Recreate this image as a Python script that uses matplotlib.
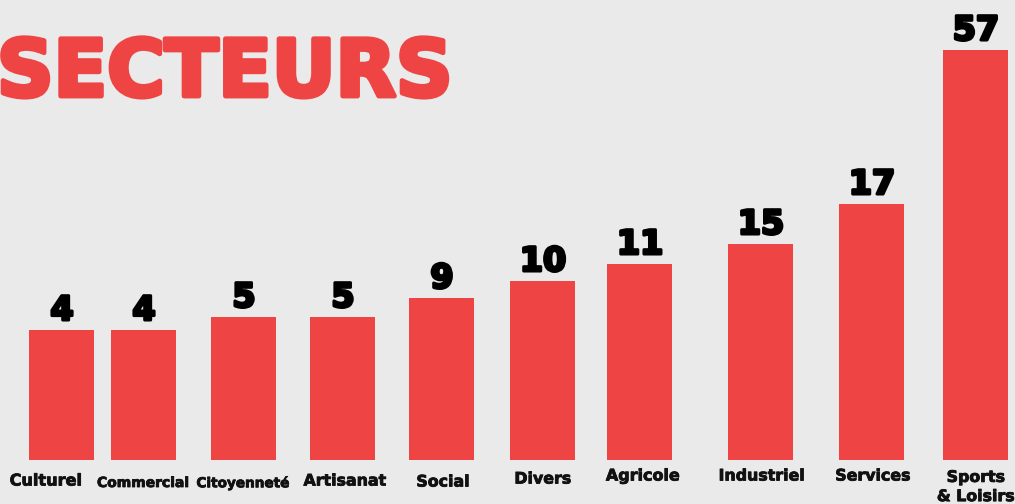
import matplotlib.pyplot as plt
import matplotlib.patheffects as pe

# data
categories = ["Culturel", "Commercial", "Citoyenneté", "Artisanat", "Social",
              "Divers", "Agricole", "Industriel", "Services", "Sports\n& Loisirs"]
counts = [4, 4, 5, 5, 9, 10, 11, 15, 17, 57]
# drawn bar heights (the infographic does not scale bars linearly)
bar_heights = [130, 130, 143, 143, 162, 179, 196, 216, 256, 410]

# layout (irregular spacing of the original)
x_pos = [62, 144, 244, 343, 442, 543, 640, 761, 872, 976]
label_x = [46, 143, 243, 345, 443, 543, 643, 762, 873, 976]
label_y = [-21, -23, -23, -21, -22, -19, -16, -16, -16, -27]
label_size = [11.6, 10, 9.8, 11.4, 11.4, 11.4, 11.5, 11.4, 11.4, 11.4]

bg = "#eaeaea"
red = "#ef4444"

fig = plt.figure(figsize=(10.15, 5.04), dpi=100, facecolor=bg)
ax = fig.add_axes([0, 0, 1, 1])
ax.set_facecolor(bg)
ax.set_xlim(0, 1015)
ax.set_ylim(-44, 460)
ax.axis("off")

ax.bar(x_pos, bar_heights, width=65, color=red)

for x, h, c in zip(x_pos, bar_heights, counts):
    ax.text(x, h + 10, str(c), ha="center", va="baseline",
            fontsize=24, fontweight="bold", color="black",
            path_effects=[pe.withStroke(linewidth=2.2, foreground="black")])

for x, y, s, lab in zip(label_x, label_y, label_size, categories):
    ax.text(x, y, lab, ha="center", va="center", fontsize=s,
            fontweight="bold", color="#111111", linespacing=1.35,
            path_effects=[pe.withStroke(linewidth=0.6, foreground="#111111")])

ax.text(-3, 364, "SECTEURS", ha="left", va="baseline", fontsize=56.5,
        fontweight="bold", color=red,
        path_effects=[pe.withStroke(linewidth=3.5, foreground=red)])

fig.savefig("out.png", dpi=100, facecolor=bg)
